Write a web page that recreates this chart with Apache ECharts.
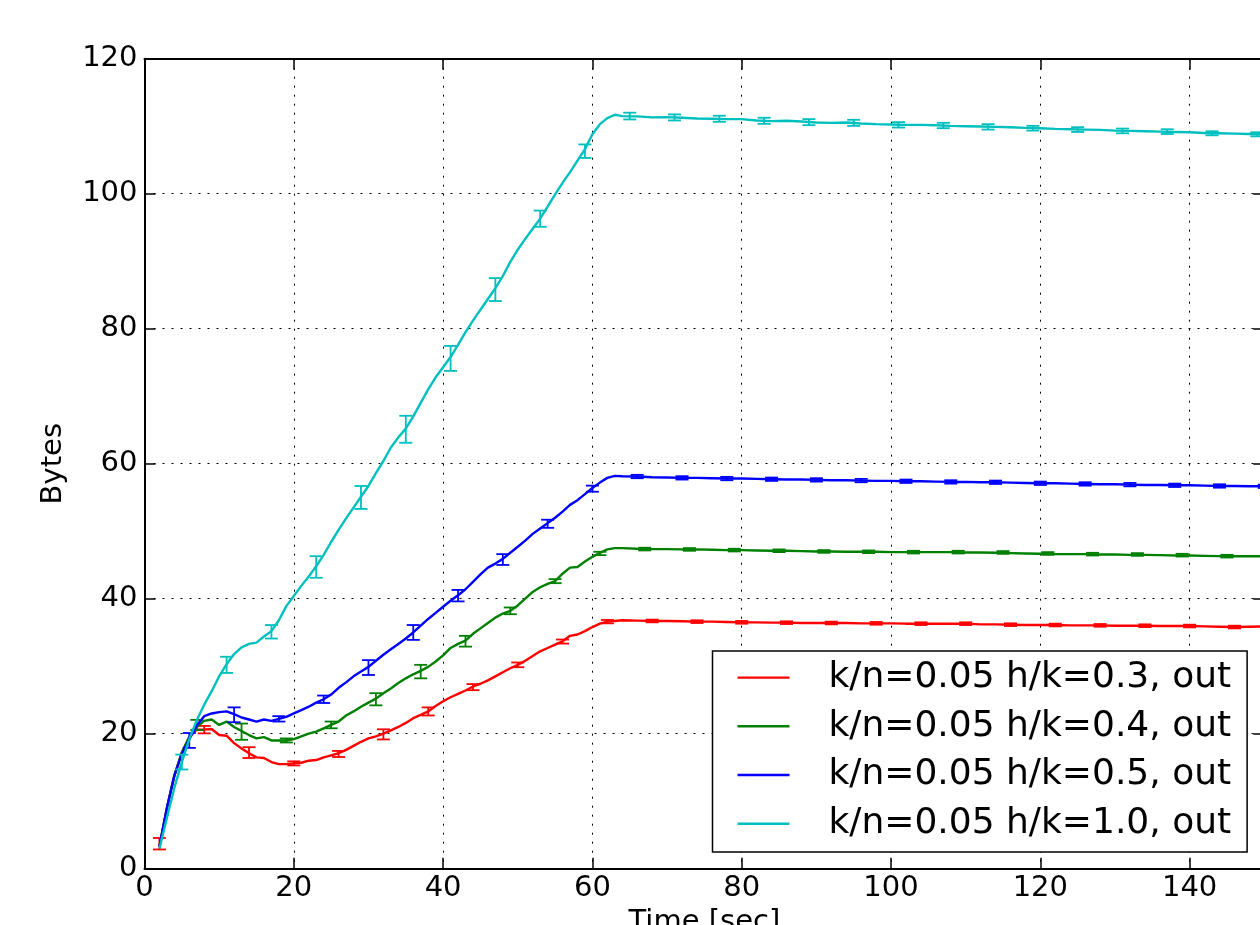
<!DOCTYPE html>
<html><head><meta charset="utf-8">
<script src="https://cdn.jsdelivr.net/npm/echarts@6/dist/echarts.min.js"></script>
<style>html,body{margin:0;padding:0;background:#fff;}#chart{width:1260px;height:925px;}</style>
</head><body><div id="chart"></div>
<script>
// ---------- data ----------
const seriesNames = ['k/n=0.05 h/k=0.3, out','k/n=0.05 h/k=0.4, out','k/n=0.05 h/k=0.5, out','k/n=0.05 h/k=1.0, out'];
const seriesColors = ['#ff0000','#008000','#0000ff','#00bfbf'];
const xTickLabels = [0,20,40,60,80,100,120,140];
const yTickLabels = [0,20,40,60,80,100,120];

const timeSec = [2,3,4,5,6,7,8,9,10,11,12,13,14,15,16,17,18,19,20,21,22,23,24,25,26,27,28,29,30,31,32,33,34,35,36,37,38,39,40,41,42,43,44,45,46,47,48,49,50,51,52,53,54,55,56,57,58,59,60,61,62,63,64,
66,68,70,72,74,76,78,80,82,84,86,88,90,92,94,96,98,100,102,104,106,108,110,112,114,116,118,120,122,124,126,128,130,132,134,136,138,140,142,144,146,148,150];

const bytesH03 = [3.3,9.0,13.8,17.2,19.5,20.6,20.6,20.7,19.8,19.7,18.6,17.8,17.1,16.5,16.4,15.8,15.5,15.5,15.6,15.7,16.0,16.1,16.5,16.8,17.1,17.6,18.2,18.8,19.3,19.6,20.0,20.5,21.0,21.6,22.3,22.8,23.3,24.1,24.8,25.4,25.9,26.4,27.0,27.4,27.9,28.5,29.1,29.7,30.2,30.8,31.5,32.2,32.7,33.2,33.7,34.5,34.7,35.2,35.8,36.3,36.6,36.7,36.8,
36.75,36.7,36.7,36.65,36.6,36.6,36.55,36.5,36.5,36.45,36.45,36.4,36.4,36.4,36.4,36.35,36.35,36.35,36.3,36.3,36.3,36.3,36.3,36.2,36.2,36.15,36.1,36.1,36.1,36.05,36.05,36.05,36.0,36.0,36.0,35.95,35.95,35.95,35.9,35.85,35.8,35.85,35.9];
const bytesH04 = [3.3,9.0,13.8,17.2,19.5,21.0,21.9,22.1,21.3,21.8,21.0,20.4,19.8,19.3,19.5,19.0,19.0,19.0,19.2,19.6,20.0,20.3,20.8,21.3,21.8,22.7,23.3,24.0,24.6,25.2,26.0,26.7,27.5,28.2,28.8,29.3,29.9,30.7,31.6,32.7,33.3,33.8,34.8,35.6,36.4,37.2,37.8,38.2,39.0,40.0,41.0,41.7,42.2,42.6,43.7,44.6,44.7,45.5,46.2,46.8,47.3,47.5,47.5,
47.4,47.35,47.35,47.3,47.3,47.25,47.2,47.2,47.15,47.1,47.1,47.05,47.0,47.0,46.95,46.95,46.95,46.9,46.9,46.9,46.9,46.9,46.85,46.85,46.8,46.75,46.7,46.65,46.6,46.6,46.6,46.55,46.55,46.5,46.5,46.45,46.4,46.4,46.35,46.3,46.3,46.3,46.3];
const bytesH05 = [3.3,9.0,13.8,17.0,19.2,21.2,22.6,23.0,23.2,23.3,22.9,22.4,22.1,21.8,22.1,21.9,22.2,22.5,23.0,23.5,24.0,24.6,25.1,25.8,26.8,27.6,28.5,29.2,29.9,30.8,31.7,32.5,33.3,34.1,35.0,36.0,37.0,37.9,38.8,39.7,40.5,41.4,42.5,43.6,44.6,45.2,45.9,46.8,47.7,48.6,49.6,50.4,51.2,52.0,52.9,53.9,54.6,55.5,56.4,57.2,57.9,58.2,58.15,
58.1,58.0,57.95,57.9,57.9,57.85,57.8,57.8,57.75,57.7,57.65,57.65,57.6,57.55,57.55,57.5,57.45,57.45,57.4,57.4,57.35,57.3,57.3,57.25,57.25,57.2,57.15,57.1,57.1,57.05,57.0,56.95,56.95,56.9,56.85,56.85,56.8,56.8,56.75,56.7,56.7,56.65,56.65];
const bytesH10 = [3.0,7.5,12.0,15.8,19.2,22.0,24.3,26.3,28.5,30.3,31.8,32.8,33.3,33.5,34.4,35.2,36.8,38.9,40.4,41.9,43.3,44.8,46.5,48.4,50.2,51.9,53.5,55.1,56.7,58.6,60.4,62.4,63.9,65.2,67.0,69.0,71.0,72.8,74.3,75.8,77.6,79.5,81.2,82.8,84.4,86.0,87.8,89.9,91.7,93.3,94.8,96.3,98.1,99.9,101.6,103.2,104.9,106.6,108.8,110.3,111.2,111.7,111.5,
111.45,111.3,111.35,111.25,111.15,111.1,111.05,111.05,110.85,110.75,110.8,110.7,110.55,110.5,110.55,110.4,110.3,110.25,110.2,110.2,110.15,110.05,110.0,109.95,109.9,109.85,109.75,109.7,109.6,109.55,109.5,109.45,109.35,109.3,109.25,109.2,109.15,109.1,109.0,108.95,108.9,108.85,108.8];

// error bars: time, centre, half-width
const errTimeH03 = [2,8,14,20,26,32,38,44,50,56,62,68,74,80,86,92,98,104,110,116,122,128,134,140,146];
const errMidH03  = [3.7,20.6,17.2,15.6,17.0,19.9,23.3,26.9,30.2,33.65,36.6,36.7,36.6,36.5,36.45,36.4,36.35,36.3,36.3,36.15,36.1,36.05,36.0,35.95,35.8];
const errHalfH03 = [0.85,0.55,0.8,0.3,0.45,0.75,0.6,0.45,0.35,0.3,0.25,0.2,0.2,0.2,0.2,0.2,0.2,0.2,0.2,0.2,0.2,0.2,0.2,0.2,0.2];
const errTimeH04 = [7,13,19,25,31,37,43,49,55,61,67,73,79,85,91,97,103,109,115,121,127,133,139,145];
const errMidH04  = [21.3,20.3,19.0,21.3,25.1,29.2,33.7,38.2,42.6,46.7,47.35,47.3,47.2,47.1,47.0,46.95,46.9,46.9,46.85,46.7,46.6,46.55,46.45,46.3];
const errHalfH04 = [0.75,1.2,0.3,0.5,0.9,1.0,0.8,0.5,0.3,0.25,0.2,0.2,0.2,0.2,0.2,0.2,0.2,0.2,0.2,0.2,0.2,0.2,0.2,0.2];
const errTimeH05 = [6,12,18,24,30,36,42,48,54,60,66,72,78,84,90,96,102,108,114,120,126,132,138,144,150];
const errMidH05  = [19.0,22.8,22.2,25.1,29.8,35.0,40.45,45.8,51.1,56.3,58.1,57.9,57.8,57.7,57.6,57.5,57.4,57.3,57.25,57.1,57.0,56.9,56.8,56.7,56.65];
const errHalfH05 = [1.1,1.1,0.4,0.55,1.1,1.1,0.85,0.8,0.6,0.45,0.25,0.25,0.25,0.25,0.25,0.25,0.25,0.25,0.25,0.25,0.25,0.25,0.25,0.25,0.25];
const errTimeH10 = [5,11,17,23,29,35,41,47,53,59,65,71,77,83,89,95,101,107,113,119,125,131,137,143,149];
const errMidH10  = [15.8,30.2,35.1,44.7,55.0,65.1,75.6,85.8,96.3,106.3,111.5,111.3,111.1,110.8,110.6,110.5,110.2,110.1,109.9,109.7,109.5,109.3,109.2,108.95,108.8];
const errHalfH10 = [1.1,1.2,1.0,1.6,1.7,2.0,1.85,1.7,1.2,1.0,0.5,0.45,0.45,0.45,0.45,0.45,0.4,0.4,0.4,0.35,0.35,0.35,0.35,0.3,0.3];

// ---------- build ----------
const FONT = 'DejaVu Sans';
const lineVals = [bytesH03, bytesH04, bytesH05, bytesH10];
const errSets = [[errTimeH03,errMidH03,errHalfH03],[errTimeH04,errMidH04,errHalfH04],[errTimeH05,errMidH05,errHalfH05],[errTimeH10,errMidH10,errHalfH10]];

function errRenderer(color){
  return function(params, api){
    const t = api.value(0), lo = api.value(1), hi = api.value(2);
    const p1 = api.coord([t, hi]), p2 = api.coord([t, lo]);
    const w = 6.5;
    const style = {stroke: color, lineWidth: 1.8, fill: null};
    return {type:'group', children:[
      {type:'line', shape:{x1:p1[0],y1:p1[1],x2:p2[0],y2:p2[1]}, style:style},
      {type:'line', shape:{x1:p1[0]-w,y1:p1[1],x2:p1[0]+w,y2:p1[1]}, style:style},
      {type:'line', shape:{x1:p2[0]-w,y1:p2[1],x2:p2[0]+w,y2:p2[1]}, style:style}
    ]};
  };
}

const series = [];
seriesNames.forEach(function(name, i){
  series.push({
    type:'line', name:name, z:2+2*i,
    data: timeSec.map(function(t,k){ return [t, lineVals[i][k]]; }),
    showSymbol:false, symbol:'none', animation:false,
    lineStyle:{width:2.4, color:seriesColors[i]}, itemStyle:{color:seriesColors[i]}
  });
  const e = errSets[i];
  series.push({
    type:'custom', name:'err'+i, z:3+2*i, animation:false,
    renderItem: errRenderer(seriesColors[i]),
    encode:{x:0, y:[1,2]},
    data: e[0].map(function(t,k){ return [t, e[1][k]-e[2][k], e[1][k]+e[2][k]]; })
  });
});

const axisLineStyle = {color:'#000', width:2};
const tickStyle = {color:'#000', width:1.5};
const labelStyle = {fontSize:29, color:'#000', fontFamily:FONT};
const gridLine = {show:true, lineStyle:{type:[2,7], color:'#000', width:1}};

const option = {
  animation:false,
  backgroundColor:'#fff',
  grid:{left:144.5, right:-4.3, top:58.7, bottom:56.3, containLabel:false, outerBoundsMode:'none'},
  xAxis:[
    {type:'value', min:0, max:150, interval:20, position:'bottom',
     axisLine:{show:true, onZero:false, lineStyle:axisLineStyle},
     axisTick:{show:true, inside:true, length:11, lineStyle:tickStyle},
     axisLabel:Object.assign({margin:5, formatter:function(v){ return xTickLabels.indexOf(v)>=0 ? String(v) : ''; }}, labelStyle),
     splitLine:gridLine,
     name:'Time [sec]', nameLocation:'middle', nameGap:39,
     nameTextStyle:{fontSize:29, color:'#000', fontFamily:FONT}},
    {type:'value', min:0, max:150, interval:20, position:'top',
     axisLine:{show:true, onZero:false, lineStyle:axisLineStyle},
     axisTick:{show:true, inside:true, length:11, lineStyle:tickStyle},
     axisLabel:{show:false}, splitLine:{show:false}}
  ],
  yAxis:[
    {type:'value', min:0, max:120, interval:20, position:'left',
     axisLine:{show:true, onZero:false, lineStyle:axisLineStyle},
     axisTick:{show:true, inside:true, length:11, lineStyle:tickStyle},
     axisLabel:Object.assign({margin:7, formatter:function(v){ return yTickLabels.indexOf(v)>=0 ? String(v) : ''; }}, labelStyle),
     splitLine:gridLine,
     name:'Bytes', nameLocation:'middle', nameGap:77,
     nameTextStyle:{fontSize:29, color:'#000', fontFamily:FONT}},
    {type:'value', min:0, max:120, interval:20, position:'right',
     axisLine:{show:true, onZero:false, lineStyle:axisLineStyle},
     axisTick:{show:true, inside:true, length:11, lineStyle:tickStyle},
     axisLabel:{show:false}, splitLine:{show:false}}
  ],
  legend:{
    data:seriesNames, orient:'vertical', left:712.5, top:651,
    backgroundColor:'#fff', borderColor:'#000', borderWidth:1.5, borderRadius:0,
    padding:[8.6,16,10.3,25], itemWidth:52, itemHeight:2.4, itemGap:12.7, icon:'rect',
    selectedMode:false,
    textStyle:{fontSize:36, fontFamily:FONT, color:'#000', lineHeight:36, padding:[0,0,0,34]}
  },
  series:series
};

const chart = echarts.init(document.getElementById('chart'), null, {renderer:'canvas'});
chart.setOption(option);
</script>
</body></html>
